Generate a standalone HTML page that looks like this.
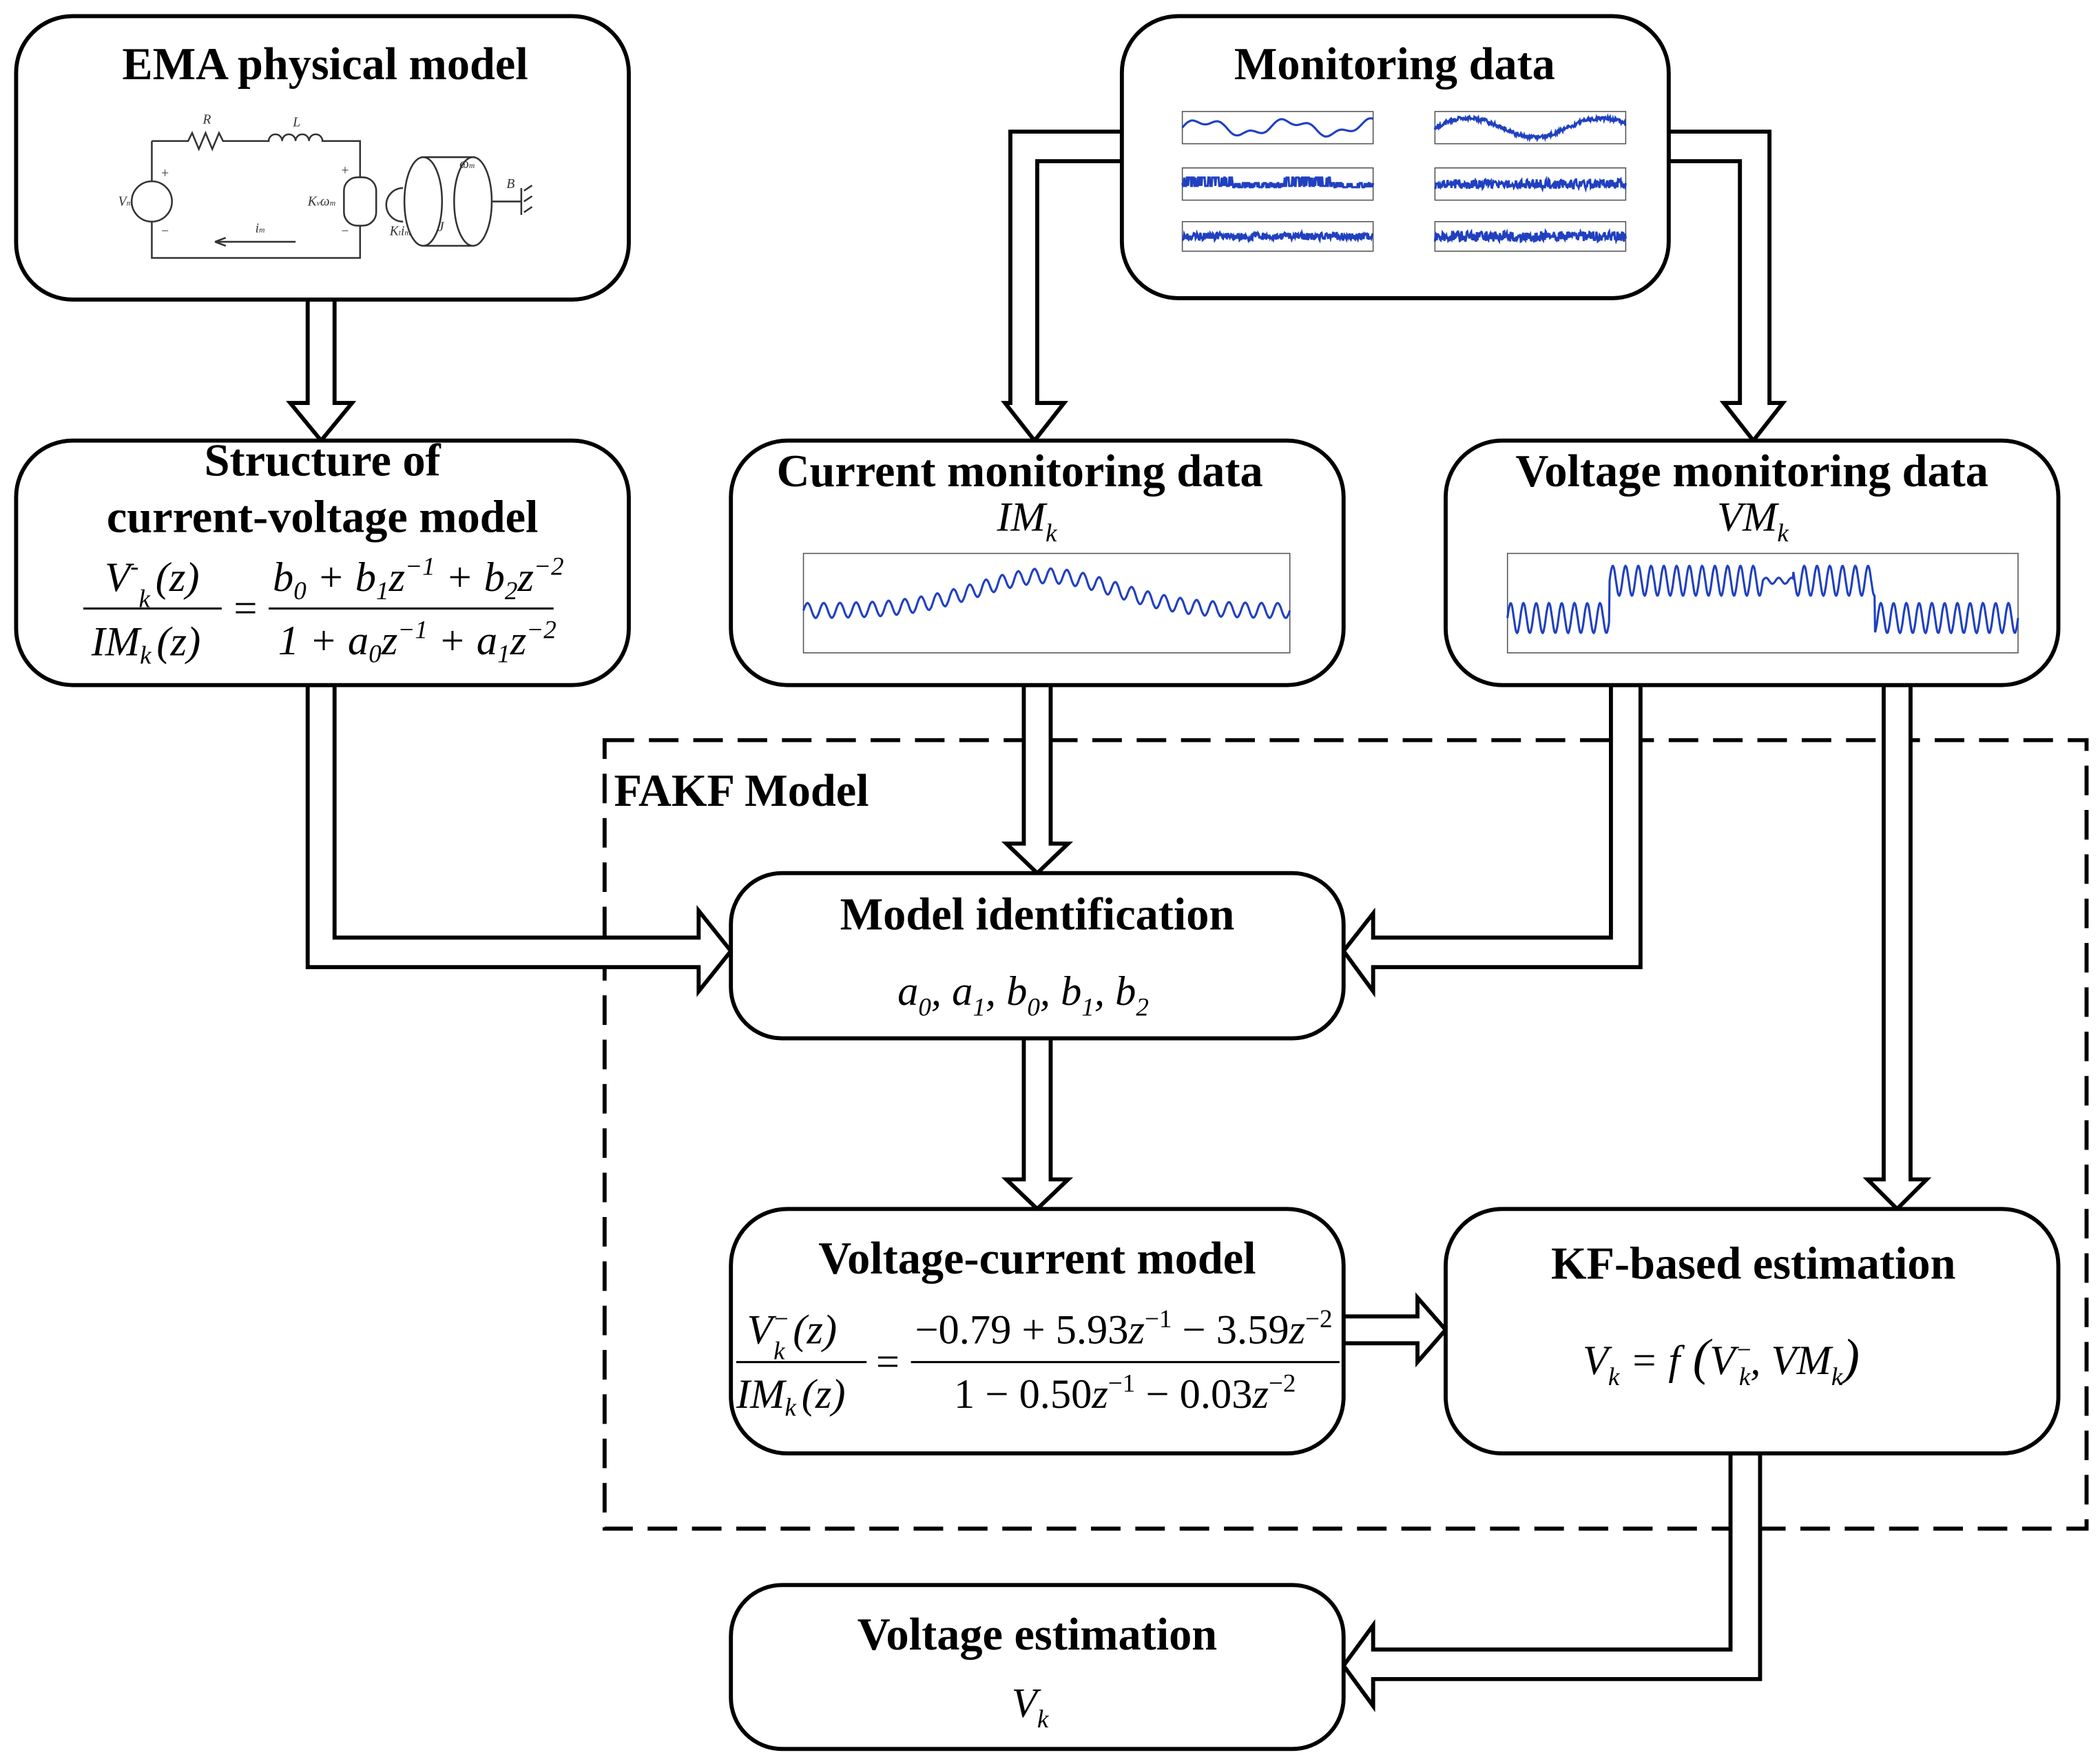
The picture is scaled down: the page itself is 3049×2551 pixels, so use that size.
<!DOCTYPE html>
<html><head><meta charset="utf-8"><style>
html,body{margin:0;padding:0;background:#fff;}
svg{display:block;}
.t{font-family:"Liberation Serif",serif;font-weight:bold;font-size:34px;text-anchor:middle;}
.m{font-family:"Liberation Serif",serif;font-style:italic;font-size:31px;}
.r{font-family:"Liberation Serif",serif;font-size:31px;}
.s{font-size:19px;}
.box{fill:#fff;stroke:#000;stroke-width:3;}
.ar{fill:#fff;stroke:#000;stroke-width:3;stroke-linejoin:miter;}
.ax{fill:none;stroke:#555;stroke-width:0.8;}
.w{fill:none;stroke:#2040c0;stroke-width:1.6;}
</style></head><body>
<svg id="sv" width="3049" height="2551" viewBox="0 0 1563 1308" preserveAspectRatio="none" xmlns="http://www.w3.org/2000/svg">
<rect x="0" y="0" width="1563" height="1308" fill="#fff"/>
<rect x="450" y="551" width="1103" height="587" fill="none" stroke="#000" stroke-width="3" stroke-dasharray="22,11"/>
<text x="457" y="600" class="t" style="text-anchor:start">FAKF Model</text>

<polygon class="ar" points="229,223 229,300 216,300 239,328 262,300 249,300 249,223"/>
<polygon class="ar" points="835,98 752,98 752,300 748,300 770,328 792,300 772,300 772,120 835,120"/>
<polygon class="ar" points="1242,98 1317,98 1317,300 1327,300 1305,328 1283,300 1295,300 1295,120 1242,120"/>
<polygon class="ar" points="229,510 229,720 520,720 520,738 544,708 520,678 520,698 249,698 249,510"/>
<polygon class="ar" points="762,510 762,628 749,628 772,650 795,628 782,628 782,510"/>
<polygon class="ar" points="1221,510 1221,720 1022,720 1022,738 1000,708 1022,680 1022,698 1199,698 1199,510"/>
<polygon class="ar" points="1402,510 1402,878 1390,878 1412,900 1434,878 1422,878 1422,510"/>
<polygon class="ar" points="762,773 762,878 749,878 772,900 795,878 782,878 782,773"/>
<polygon class="ar" points="1000,980 1055,980 1055,966 1076,990 1055,1014 1055,1000 1000,1000"/>
<polygon class="ar" points="1288,1082 1288,1228 1022,1228 1022,1210 1000,1240 1022,1270 1022,1250 1310,1250 1310,1082"/>

<rect class="box" x="12" y="12" width="456" height="211" rx="42"/>
<rect class="box" x="835" y="12" width="407" height="210" rx="42"/>
<rect class="box" x="12" y="328" width="456" height="182" rx="42"/>
<rect class="box" x="544" y="328" width="456" height="182" rx="42"/>
<rect class="box" x="1076" y="328" width="456" height="182" rx="42"/>
<rect class="box" x="544" y="650" width="456" height="123" rx="38"/>
<rect class="box" x="544" y="900" width="456" height="182" rx="42"/>
<rect class="box" x="1076" y="900" width="456" height="182" rx="42"/>
<rect class="box" x="544" y="1180" width="456" height="122" rx="38"/>

<text x="242" y="59" class="t">EMA physical model</text>
<g fill="none" stroke="#333" stroke-width="1.3">
<path d="M113,105 H140 l3,-6 l5,12 l5,-12 l5,12 l5,-12 l3,6 H200 a5,5 0 0 1 10,0 a5,5 0 0 1 10,0 a5,5 0 0 1 10,0 a5,5 0 0 1 10,0 H268 V132"/>
<circle cx="113" cy="150" r="15"/><path d="M113,105 V135 M113,165 V192 H268 V168"/>
<rect x="256" y="132" width="24" height="36" rx="10"/>
<ellipse cx="315" cy="150" rx="14" ry="33"/><path d="M315,117 H352 M315,183 H352"/><ellipse cx="352" cy="150" rx="14" ry="33"/>
<path d="M366,150 H388 M388,140 V160 M390,142 l6,-4 M390,150 l6,-4 M390,158 l6,-4"/>
<path d="M220,180 H160 M160,180 l8,-3 M160,180 l8,3"/>
<path d="M300,140 a12,12 0 0 0 0,25"/>
</g>
<g font-family="Liberation Serif,serif" font-style="italic" font-size="10" fill="#333">
<text x="151" y="92">R</text><text x="218" y="94">L</text><text x="88" y="153">V<tspan font-size="6">m</tspan></text>
<text x="120" y="132" font-style="normal">+</text><text x="120" y="175" font-style="normal">−</text>
<text x="229" y="153">K<tspan font-size="6">v</tspan>ω<tspan font-size="6">m</tspan></text>
<text x="190" y="173">i<tspan font-size="6">m</tspan></text><text x="290" y="175">K<tspan font-size="6">t</tspan>i<tspan font-size="6">m</tspan></text>
<text x="326" y="172">J</text><text x="342" y="125">ω<tspan font-size="6">m</tspan></text><text x="377" y="140">B</text>
<text x="254" y="130" font-style="normal">+</text><text x="254" y="175" font-style="normal">−</text>
</g>

<text x="1038" y="59" class="t">Monitoring data</text>
<g id="mon"></g>

<text x="240" y="354" class="t">Structure of</text>
<text x="240" y="396" class="t">current-voltage model</text>
<line x1="62" y1="453" x2="165" y2="453" stroke="#000" stroke-width="1.5"/>
<line x1="200" y1="453" x2="412" y2="453" stroke="#000" stroke-width="1.5"/>
<text x="78" y="440" class="m">V<tspan class="s" dy="-12">-</tspan><tspan class="s" dy="24">k</tspan><tspan class="r" dy="-12" dx="4">(z)</tspan></text>
<text x="68" y="488" class="m">IM<tspan class="s" dy="6">k</tspan><tspan class="r" dy="-6" dx="4">(z)</tspan></text>
<text x="174" y="463" class="r">=</text>
<text x="203" y="440" class="m">b<tspan class="s" dy="6">0</tspan><tspan class="r" dy="-6"> + </tspan>b<tspan class="s" dy="6">1</tspan><tspan dy="-6">z</tspan><tspan class="s" dy="-12">−1</tspan><tspan class="r" dy="12"> + </tspan>b<tspan class="s" dy="6">2</tspan><tspan dy="-6">z</tspan><tspan class="s" dy="-12">−2</tspan></text>
<text x="207" y="487" class="m"><tspan class="r">1 + </tspan>a<tspan class="s" dy="6">0</tspan><tspan dy="-6">z</tspan><tspan class="s" dy="-12">−1</tspan><tspan class="r" dy="12"> + </tspan>a<tspan class="s" dy="6">1</tspan><tspan dy="-6">z</tspan><tspan class="s" dy="-12">−2</tspan></text>

<text x="759" y="362" class="t">Current monitoring data</text>
<text x="742" y="395" class="m">IM<tspan class="s" dy="8">k</tspan></text>
<g id="cur"></g>

<text x="1304" y="362" class="t">Voltage monitoring data</text>
<text x="1278" y="395" class="m">VM<tspan class="s" dy="8">k</tspan></text>
<g id="vol"></g>

<text x="772" y="692" class="t">Model identification</text>
<text x="668" y="748" class="m">a<tspan class="s" dy="8">0</tspan><tspan class="r" dy="-8">, </tspan>a<tspan class="s" dy="8">1</tspan><tspan class="r" dy="-8">, </tspan>b<tspan class="s" dy="8">0</tspan><tspan class="r" dy="-8">, </tspan>b<tspan class="s" dy="8">1</tspan><tspan class="r" dy="-8">, </tspan>b<tspan class="s" dy="8">2</tspan></text>

<text x="772" y="948" class="t">Voltage-current model</text>
<line x1="548" y1="1014" x2="645" y2="1014" stroke="#000" stroke-width="1.5"/>
<line x1="678" y1="1014" x2="997" y2="1014" stroke="#000" stroke-width="1.5"/>
<text x="556" y="1000" class="m">V<tspan class="s" dy="-12">−</tspan><tspan class="s" dy="24" dx="-12">k</tspan><tspan class="r" dy="-12" dx="6">(z)</tspan></text>
<text x="548" y="1048" class="m">IM<tspan class="s" dy="6">k</tspan><tspan class="r" dy="-6" dx="4">(z)</tspan></text>
<text x="652" y="1024" class="r">=</text>
<text x="681" y="1000" class="r">−0.79 + 5.93<tspan class="m">z</tspan><tspan class="s" dy="-12">−1</tspan><tspan dy="12"> − 3.59</tspan><tspan class="m">z</tspan><tspan class="s" dy="-12">−2</tspan></text>
<text x="710" y="1048" class="r">1 − 0.50<tspan class="m">z</tspan><tspan class="s" dy="-12">−1</tspan><tspan dy="12"> − 0.03</tspan><tspan class="m">z</tspan><tspan class="s" dy="-12">−2</tspan></text>

<text x="1305" y="952" class="t">KF-based estimation</text>
<text x="1178" y="1023" class="m">V<tspan class="s" dy="8">k</tspan><tspan class="r" dy="-8"> = </tspan>f<tspan class="r" style="font-size:38px"> (</tspan>V<tspan class="s" dy="-12">−</tspan><tspan class="s" dy="20" dx="-10">k</tspan><tspan class="r" dy="-8">, </tspan>VM<tspan class="s" dy="8">k</tspan><tspan class="r" dy="-8" style="font-size:38px">)</tspan></text>

<text x="772" y="1228" class="t">Voltage estimation</text>
<text x="753" y="1278" class="m">V<tspan class="s" dy="8">k</tspan></text>
</svg>
<script>
var NS="http://www.w3.org/2000/svg";
function el(p,t,a){var e=document.createElementNS(NS,t);for(var k in a)e.setAttribute(k,a[k]);p.appendChild(e);return e;}
function plot(g,x,y,w,h,f,n){
 el(g,"rect",{x:x,y:y,width:w,height:h,"class":"ax"});
 var pts=[];for(var i=0;i<=n;i++){var t=i/n;pts.push((x+t*w).toFixed(1)+","+(y+h*(0.5-0.5*f(t))).toFixed(1));}
 el(g,"polyline",{points:pts.join(" "),"class":"w"});
}
var mon=document.getElementById("mon");
function rnd(s){var v=Math.sin(s*12.9898)*43758.5453;return v-Math.floor(v);}
var L=880,R=1068,W=142;
plot(mon,L,83,W,24,function(t){return 0.4*Math.sin(t*14)+0.2*Math.sin(t*40);},200);
plot(mon,R,83,W,24,function(t){return 0.6*Math.sin(t*9)+0.25*(rnd(t*999)-0.5);},300);
plot(mon,L,125,W,24,function(t){return (Math.sin(t*12)>0?0.4:-0.2)*(rnd(t*777)>0.5?1:-0.3);},300);
plot(mon,R,125,W,24,function(t){return 0.6*(rnd(t*555)-0.5);},300);
plot(mon,L,165,W,22,function(t){return 0.5*(rnd(t*333)-0.5);},300);
plot(mon,R,165,W,22,function(t){return 0.7*(rnd(t*222)-0.5);},300);
var cur=document.getElementById("cur");
plot(cur,598,412,362,74,function(t){var env=Math.exp(-Math.pow((t-0.5)/0.2,2));return 0.15*Math.sin(t*2*Math.PI*30)+0.7*env-0.15;},700);
var vol=document.getElementById("vol");
plot(vol,1122,412,380,74,function(t){var lvl=t<0.2?-0.3:(t<0.72?0.45:-0.3);return lvl+0.3*Math.sin(t*2*Math.PI*40)*(t>0.5&&t<0.56?0.2:1);},900);
</script>
</body></html>
